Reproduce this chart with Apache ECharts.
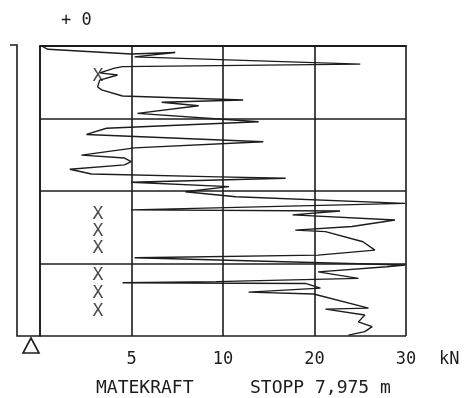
<!DOCTYPE html>
<html>
<head>
<meta charset="utf-8">
<script src="https://cdn.jsdelivr.net/npm/echarts@6/dist/echarts.min.js"></script>
<style>html,body{margin:0;padding:0;background:#fff}#c{width:467px;height:398px}</style>
</head>
<body>
<div id="c"></div>
<script>
// Sounding trace: depth (m) and force (kN)
const depth = [0, 0.09, 0.22, 0.18, 0.30, 0.50, 0.57, 0.61, 0.74, 0.80, 0.94, 1.13, 1.21, 1.38, 1.49, 1.55, 1.65, 1.86, 2.09, 2.27, 2.44, 2.64, 2.81, 3.01, 3.09, 3.19, 3.28, 3.40, 3.53, 3.61, 3.65, 3.76, 3.88, 4.02, 4.16, 4.34, 4.52, 4.55, 4.66, 4.80, 4.98, 5.08, 5.12, 5.40, 5.63, 5.77, 5.84, 6.04, 6.09, 6.23, 6.41, 6.50, 6.53, 6.55, 6.68, 6.79, 6.84, 7.23, 7.26, 7.42, 7.61, 7.74, 7.88, 7.975];
const force = [0.09, 0.43, 4.98, 7.39, 5.17, 25.0, 4.51, 4.08, 3.26, 4.24, 3.26, 3.15, 3.37, 4.51, 12.2, 6.65, 8.67, 5.33, 13.9, 3.63, 2.54, 14.4, 5.17, 2.27, 4.62, 4.98, 4.62, 1.63, 2.81, 9.78, 16.85, 4.98, 10.65, 7.94, 11.4, 29.9, 4.98, 22.8, 17.6, 28.8, 24.1, 17.9, 21.2, 25.3, 26.6, 20.4, 5.17, 29.9, 27.9, 20.4, 24.8, 9.61, 4.51, 19.0, 20.65, 12.8, 19.9, 25.9, 21.2, 25.5, 24.8, 26.3, 25.5, 23.7];
// "X" marks (depth m, force kN position)
const xMarkDepth = [0.85, 4.63, 5.10, 5.57, 6.34, 6.81, 7.31];
const xMarkForce = [3.17, 3.17, 3.17, 3.17, 3.17, 3.17, 3.17];
// x axis breakpoints (kN) – equally spaced on the chart
const breaks = [0, 5, 10, 20, 30];
const tickLabels = ['', '5', '10', '20', '30'];

function pos(f) {
  for (let i = 0; i < breaks.length - 1; i++) {
    if (f <= breaks[i + 1] || i === breaks.length - 2) {
      return i + (f - breaks[i]) / (breaks[i + 1] - breaks[i]);
    }
  }
}
const lineData = depth.map((d, i) => [pos(force[i]), d]);
const markData = xMarkDepth.map((d, i) => [pos(xMarkForce[i]), d]);

const ink = '#1c1c1c';
const font = 'DejaVu Sans Mono';
const chart = echarts.init(document.getElementById('c'));
chart.setOption({
  backgroundColor: '#fff',
  animation: false,
  grid: { left: 40, right: 61, top: 46, bottom: 62 },
  xAxis: {
    type: 'value', min: 0, max: 4, interval: 1,
    axisLine: { show: true, lineStyle: { color: ink, width: 2 } },
    axisTick: { show: false },
    splitLine: { show: true, lineStyle: { color: ink, width: 1.6 } },
    axisLabel: { margin: 15, color: ink, fontFamily: font, fontSize: 17,
      formatter: v => tickLabels[Math.round(v)] }
  },
  yAxis: {
    type: 'value', min: 0, max: 8, interval: 2, inverse: true,
    axisLine: { show: true, lineStyle: { color: ink, width: 1.6 } },
    axisTick: { show: false }, axisLabel: { show: false },
    splitLine: { show: true, lineStyle: { color: ink, width: 1.6 } }
  },
  series: [
    { type: 'line', data: lineData, symbol: 'none',
      lineStyle: { color: ink, width: 1.4 }, z: 3 },
    { type: 'scatter', data: markData, symbolSize: 0,
      label: { show: true, position: 'inside', formatter: 'X', color: ink,
        fontFamily: font, fontSize: 18 }, z: 4 }
  ],
  graphic: [
    { type: 'polyline', shape: { points: [[10, 45], [17, 45], [17, 336], [40, 336]] },
      style: { stroke: ink, lineWidth: 1.6, fill: null } },
    { type: 'polygon', shape: { points: [[31, 338], [23, 353], [39, 353]] },
      style: { stroke: ink, lineWidth: 1.6, fill: null } },
    { type: 'text', left: 61, top: 12, style: { text: '+ 0', fill: ink, font: '17px "DejaVu Sans Mono"' } },
    { type: 'text', left: 439, top: 351, style: { text: 'kN', fill: ink, font: '17px "DejaVu Sans Mono"' } },
    { type: 'text', left: 96, top: 379, style: { text: 'MATEKRAFT', fill: ink, font: '18px "DejaVu Sans Mono"' } },
    { type: 'text', left: 250, top: 379, style: { text: 'STOPP 7,975 m', fill: ink, font: '18px "DejaVu Sans Mono"' } }
  ]
});
</script>
</body>
</html>
